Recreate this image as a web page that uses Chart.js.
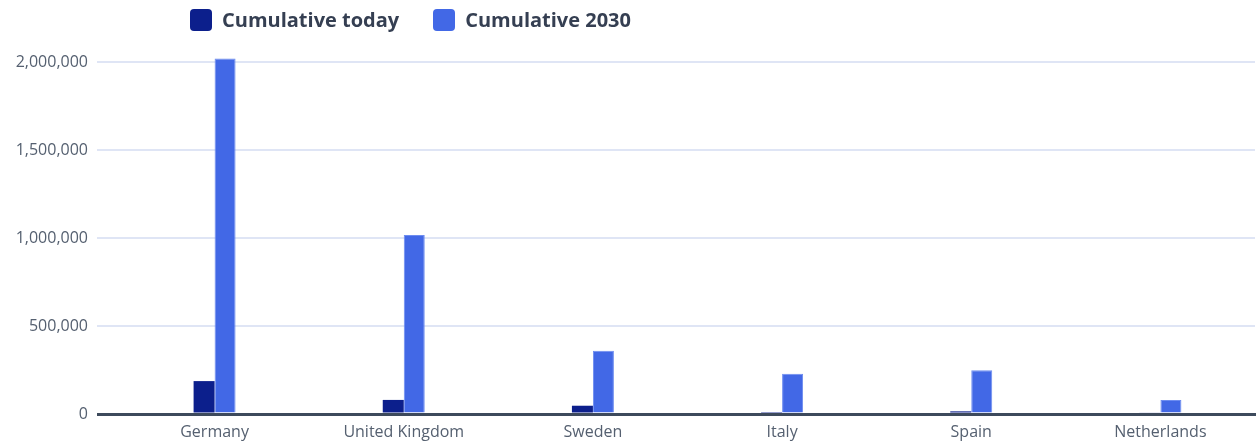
<!DOCTYPE html>
<html>
<head>
<meta charset="utf-8">
<script src="https://cdn.jsdelivr.net/npm/chart.js@4.4.1/dist/chart.umd.min.js"></script>
<style>
  body { margin: 0; background: #fff; }
  .wrap { position: relative; width: 1258px; height: 441px; }
  .legend { position: absolute; left: 190px; top: 9px; display: flex; font-family: "Open Sans", sans-serif; font-weight: 700; font-size: 20px; line-height: 22px; color: #353f52; }
  .legend .item { display: flex; align-items: center; margin-right: 34px; }
  .legend .box { width: 22px; height: 22px; border-radius: 4px; margin-right: 10px; }
</style>
</head>
<body>
<div class="wrap">
  <div class="legend"></div>
  <canvas id="myChart" width="1258" height="441"></canvas>
</div>
<script>
const countries = ["Germany", "United Kingdom", "Sweden", "Italy", "Spain", "Netherlands"];
const cumulativeToday = [187000, 80000, 47000, 11000, 15000, 9000];
const cumulative2030 = [2020000, 1017000, 359000, 229000, 248000, 80000];
const yTicks = [0, 500000, 1000000, 1500000, 2000000];

const colors = {
  today: "#0c1f8c",
  future: "#4268e6",
  grid: "#dfe5f5",
  axis: "#3d4a5c",
  text: "#556070",
};

const data = {
  labels: countries,
  datasets: [
    {
      label: "Cumulative today",
      data: cumulativeToday,
      backgroundColor: colors.today,
      borderColor: colors.today,
      borderWidth: 0,
    },
    {
      label: "Cumulative 2030",
      data: cumulative2030,
      backgroundColor: colors.future,
      borderColor: "#6d8cf0",
      borderWidth: 1,
    },
  ],
};

const config = {
  type: "bar",
  data,
  options: {
    responsive: false,
    animation: false,
    layout: { padding: { top: 48, right: 3, left: 0, bottom: 0 } },
    datasets: {
      bar: { barPercentage: 1, categoryPercentage: 0.222 },
    },
    plugins: {
      legend: { display: false },
      tooltip: { enabled: false },
    },
    scales: {
      x: {
        afterFit: (scale) => {
          scale.height = 27;
        },
        grid: { display: false, drawTicks: false },
        border: { display: true, color: colors.axis, width: 3 },
        ticks: {
          color: colors.text,
          font: { family: "Open Sans", size: 16 },
          padding: 9,
        },
      },
      y: {
        min: 0,
        max: 2080000,
        afterFit: (scale) => {
          scale.width = 120;
        },
        // only the round values get a line and a label
        afterBuildTicks: (axis) => {
          axis.ticks = yTicks.map((value) => ({ value }));
        },
        border: { display: false },
        grid: {
          tickLength: 23,
          color: (ctx) => (ctx.tick && ctx.tick.value === 0 ? colors.axis : colors.grid),
          lineWidth: (ctx) => (ctx.tick && ctx.tick.value === 0 ? 3 : 2),
        },
        ticks: {
          autoSkip: false,
          padding: 9,
          color: colors.text,
          font: { family: "Open Sans", size: 16 },
          callback: (v) => Number(v).toLocaleString("en-US"),
        },
      },
    },
  },
};

const myChart = new Chart(document.getElementById("myChart"), config);

// legend drawn as html from the chart's own legend items
const legendDiv = document.querySelector(".legend");
myChart.options.plugins.legend.labels.generateLabels(myChart).forEach((item) => {
  const el = document.createElement("div");
  el.classList.add("item");
  const box = document.createElement("span");
  box.classList.add("box");
  box.style.background = item.fillStyle;
  const txt = document.createElement("span");
  txt.textContent = item.text;
  el.appendChild(box);
  el.appendChild(txt);
  legendDiv.appendChild(el);
});
</script>
</body>
</html>
